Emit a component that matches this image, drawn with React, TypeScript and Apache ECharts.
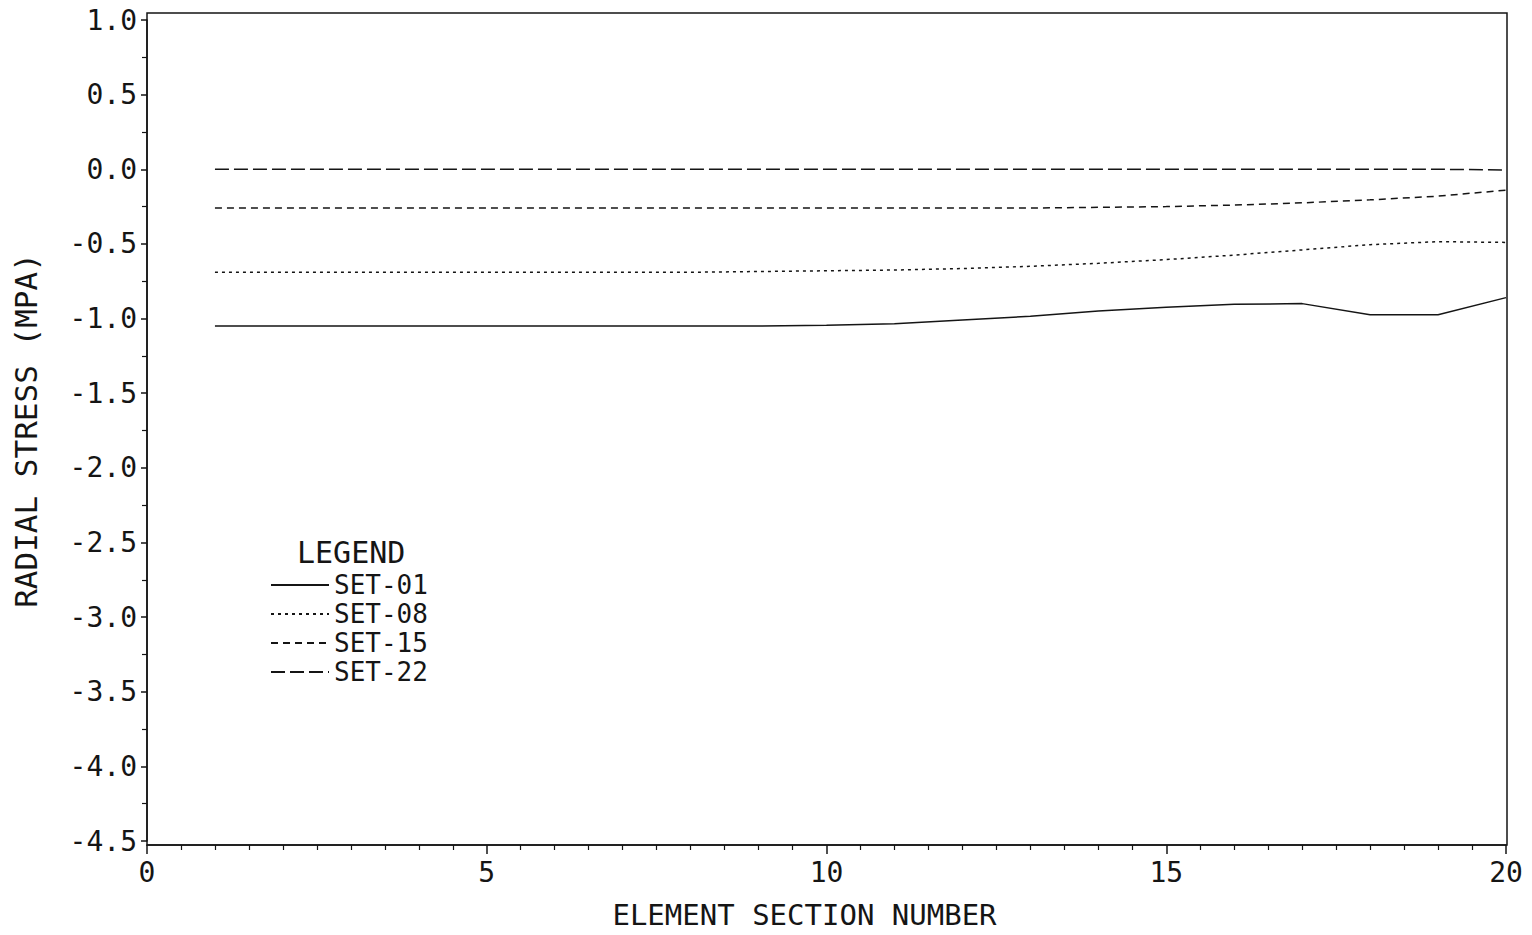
import React, { useEffect, useRef } from "react";
import * as echarts from "echarts";

const xValues = [1, 2, 3, 4, 5, 6, 7, 8, 9, 10, 11, 12, 13, 14, 15, 16, 17, 18, 19, 20];
const set01 = [-1.05, -1.05, -1.05, -1.05, -1.05, -1.05, -1.05, -1.05, -1.05, -1.045, -1.035, -1.01, -0.985, -0.95, -0.925, -0.905, -0.9, -0.975, -0.975, -0.86];
const set08 = [-0.69, -0.69, -0.69, -0.69, -0.69, -0.69, -0.69, -0.69, -0.685, -0.68, -0.675, -0.665, -0.65, -0.63, -0.605, -0.575, -0.54, -0.505, -0.485, -0.49];
const set15 = [-0.26, -0.26, -0.26, -0.26, -0.26, -0.26, -0.26, -0.26, -0.26, -0.26, -0.26, -0.26, -0.26, -0.255, -0.25, -0.24, -0.225, -0.205, -0.18, -0.14];
const set22 = [0, 0, 0, 0, 0, 0, 0, 0, 0, 0, 0, 0, 0, 0, 0, 0, 0, 0, 0, -0.005];

const seriesNames = ["SET-01", "SET-08", "SET-15", "SET-22"];
const seriesValues = [set01, set08, set15, set22];
const dashTypes: any[] = ["solid", [3, 4], [7, 5], [14, 5]];

const FONT = "DejaVu Sans Mono";
const INK = "#151515";

export default function App() {
  const ref = useRef<HTMLDivElement>(null);
  useEffect(() => {
    if (!ref.current) return;
    const chart = echarts.init(ref.current, null, { renderer: "svg" });
    chart.setOption({
      animation: false,
      backgroundColor: "#ffffff",
      grid: {
        left: 147,
        right: 26,
        top: 20,
        bottom: 94,
        show: false,
      },
      legend: {
        data: seriesNames,
        orient: "vertical",
        left: 265,
        top: 567,
        itemWidth: 58,
        itemHeight: 14,
        itemGap: 3,
        itemStyle: { opacity: 0, borderWidth: 0 },
        textStyle: { fontFamily: FONT, fontSize: 26, color: INK, lineHeight: 26 },
      },
      graphic: [
        {
          type: "rect",
          shape: { x: 147, y: 13, width: 1360, height: 832 },
          style: { fill: "none", stroke: INK, lineWidth: 1.5 },
          silent: true,
        },
        {
          type: "text",
          left: 297,
          top: 537,
          style: { text: "LEGEND", font: `30px "${FONT}"`, fill: INK },
        },
      ],
      xAxis: {
        type: "value",
        min: 0,
        max: 20,
        interval: 5,
        offset: 4,
        name: "ELEMENT SECTION NUMBER",
        nameLocation: "middle",
        nameGap: 55,
        nameTextStyle: { fontFamily: FONT, fontSize: 29, color: INK, padding: [0, 44, 0, 0] },
        axisLine: { show: true, onZero: false, lineStyle: { color: INK, width: 1.5 } },
        axisTick: { show: true, length: 9, lineStyle: { color: INK, width: 1.5 } },
        minorTick: { show: true, splitNumber: 10, length: 5, lineStyle: { color: INK, width: 1.2 } },
        axisLabel: { fontFamily: FONT, fontSize: 28, color: INK, margin: 13 },
        splitLine: { show: false },
      },
      yAxis: {
        type: "value",
        min: -4.5,
        max: 1.0,
        interval: 0.5,
        name: "RADIAL STRESS (MPA)",
        nameLocation: "middle",
        nameGap: 106,
        nameTextStyle: { fontFamily: FONT, fontSize: 31, color: INK },
        axisLine: { show: true, onZero: false, lineStyle: { color: INK, width: 1.5 } },
        axisTick: { show: true, length: 6, lineStyle: { color: INK, width: 1.5 } },
        minorTick: { show: true, splitNumber: 2, length: 5, lineStyle: { color: INK, width: 1.2 } },
        axisLabel: {
          fontFamily: FONT,
          fontSize: 28,
          color: INK,
          margin: 10,
          formatter: (v: number) => (Math.abs(v) < 1e-9 ? "0.0" : v.toFixed(1)),
        },
        splitLine: { show: false },
      },
      series: seriesNames.map((name, i) => ({
        name,
        type: "line",
        symbol: "none",
        smooth: false,
        data: xValues.map((x, j) => [x, seriesValues[i][j]]),
        lineStyle: { color: INK, width: 1.5, type: dashTypes[i] },
        itemStyle: { color: INK },
      })),
    });
    return () => chart.dispose();
  }, []);
  return (
    <div
      ref={ref}
      style={{ position: "fixed", left: 0, top: 0, width: 1532, height: 935, background: "#fff" }}
    />
  );
}
